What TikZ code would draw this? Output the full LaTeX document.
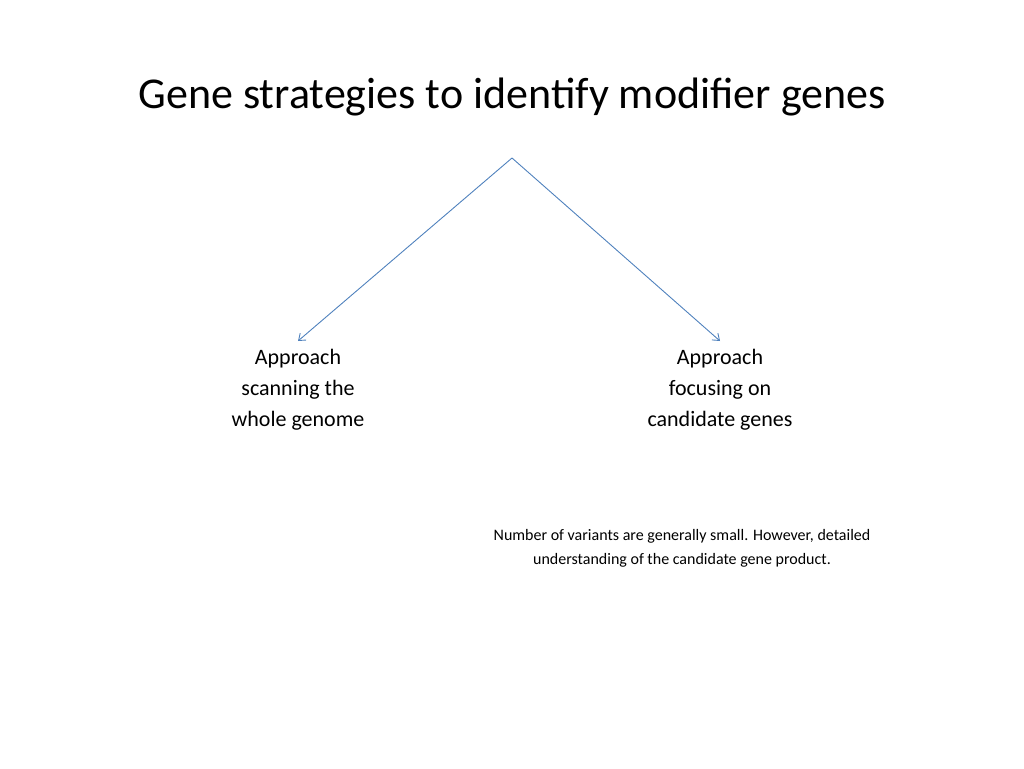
\documentclass[tikz,border=0pt]{standalone}
\usepackage{fontspec}
\setmainfont{Carlito}
\usetikzlibrary{arrows.meta}
\begin{document}
\begin{tikzpicture}[x=1pt,y=-1pt,
  conn/.style={draw={rgb,255:red,79;green,129;blue,189},line width=0.9pt,-{Straight Barb[length=6pt,width=9pt]}},
  lbl/.style={align=center,font=\fontsize{22}{31}\selectfont,anchor=north},
  note/.style={align=center,font=\fontsize{16}{24}\selectfont,anchor=north}]
\useasboundingbox (0,0) rectangle (1024,768);
\node[font=\fontsize{44}{50}\selectfont] (title) at (512,97) {Gene strategies to identify modifier genes};
\coordinate (apex) at (512,158);
\coordinate (l) at (298,341);
\coordinate (r) at (720,341);
\draw[conn] (apex) -- (l);
\draw[conn] (apex) -- (r);
\node[lbl] (a) at (298,346) {Approach\\scanning the\\whole genome};
\node[lbl] (b) at (720,346) {Approach\\focusing on\\candidate genes};
\node[note] (c) at (682,526) {Number of variants are generally small. However, detailed\\understanding of the candidate gene product.};
\end{tikzpicture}
\end{document}
